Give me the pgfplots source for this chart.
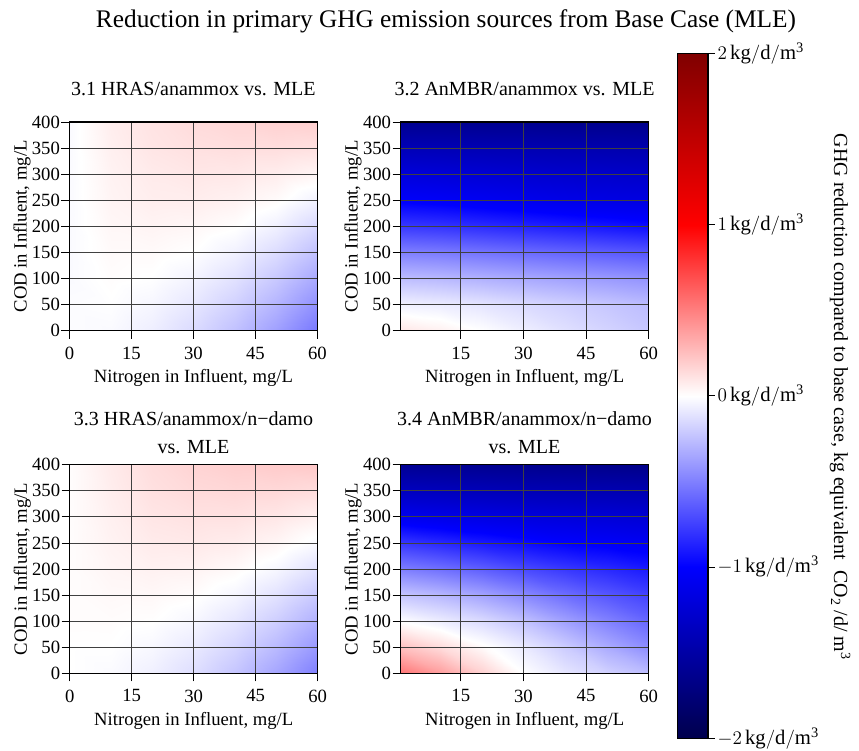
\documentclass[border=0pt]{standalone}
\usepackage{fontspec}
\setmainfont{Liberation Serif}
\usepackage{pgfplots}
\pgfplotsset{compat=1.18}

% seismic colour map, -2 .. 2
\pgfplotsset{
  colormap={seismic}{rgb=(0,0,0.3) rgb=(0,0,1) rgb=(1,1,1) rgb=(1,0,0) rgb=(0.5,0,0)},
  hmap/.style={
    scale only axis, width=186pt, height=156.5pt,
    xmin=0, xmax=60, ymin=0, ymax=400,
    xtick={0,15,...,60}, ytick={0,50,...,400},
    grid=major, grid style={black!75, line width=0.6pt},
    axis on top, axis line style={line width=0.8pt},
    tick align=outside, tick pos=left, major tick length=6pt,
    tick style={black, line width=0.6pt},
    colormap name=seismic, point meta min=-2, point meta max=2,
    font=\fontsize{14}{16}\selectfont,
    /pgf/number format/assume math mode=true,
    xlabel={Nitrogen in Influent, mg/L},
    ylabel={COD in Influent, mg/L},
    xlabel style={at={(axis description cs:0.5,-0.226)}, anchor=center},
    ylabel style={at={(axis description cs:-0.1915,0.5)}, anchor=center},
    yticklabel style={inner sep=1pt},
    xticklabel style={inner sep=2pt, yshift=-4pt},
  },
  hm/.style={surf, shader=interp, mesh/cols=7, point meta=explicit},
}

\begin{document}
\begin{tikzpicture}
\useasboundingbox (0,0) rectangle (644.25pt,562.5pt);

\node[anchor=base, font=\fontsize{19}{22}\selectfont] at (334.5pt,541.5pt)
  {Reduction in primary GHG emission sources from Base Case (MLE)};

\begin{scope}[font=\fontsize{15}{18}\selectfont]
\node[anchor=base] at (145.1pt,490.5pt) {3.1 HRAS/anammox vs. MLE};
\node[anchor=base] at (393.4pt,490.5pt) {3.2 AnMBR/anammox vs. MLE};
\node[anchor=base] at (145.1pt,243.75pt) {3.3 HRAS/anammox/n−damo};
\node[anchor=base] at (145.1pt,222.5pt) {vs. MLE};
\node[anchor=base] at (393.4pt,243.75pt) {3.4 AnMBR/anammox/n−damo};
\node[anchor=base] at (393.4pt,222.5pt) {vs. MLE};
\end{scope}

% 3.1 HRAS/anammox
\begin{axis}[hmap, at={(52.1pt,314.5pt)}, anchor=south west]
\addplot[hm] table[x=x, y=y, meta=v] {
x y v
0 0 -0.01
10 0 -0.020
20 0 -0.067
30 0 -0.142
40 0 -0.244
50 0 -0.374
60 0 -0.530
0 50 -0.01
10 50 -0.004
20 50 -0.036
30 50 -0.094
40 50 -0.181
50 50 -0.294
60 50 -0.435
0 100 -0.02
10 100 0.009
20 100 -0.004
30 100 -0.047
40 100 -0.117
50 100 -0.215
60 100 -0.340
0 150 -0.02
10 150 0.020
20 150 0.020
30 150 0.001
40 150 -0.053
50 150 -0.135
60 150 -0.244
0 200 -0.02
10 200 0.032
20 200 0.044
30 200 0.035
40 200 0.007
50 200 -0.056
60 200 -0.149
0 250 -0.02
10 250 0.043
20 250 0.067
30 250 0.070
40 250 0.054
50 250 0.017
60 250 -0.053
0 300 -0.02
10 300 0.050
20 300 0.080
30 300 0.095
40 300 0.090
50 300 0.070
60 300 0.040
0 350 -0.02
10 350 0.060
20 350 0.100
30 350 0.120
40 350 0.130
50 350 0.130
60 350 0.120
0 400 -0.02
10 400 0.070
20 400 0.110
30 400 0.140
40 400 0.160
50 400 0.180
60 400 0.190
};
\end{axis}

% 3.2 AnMBR/anammox
\begin{axis}[hmap, at={(300.5pt,314.5pt)}, anchor=south west, xmin=0.6]
\addplot[hm] table[x=x, y=y, meta=v] {
x y v
0 0 0.10
10 0 0.06
20 0 0.00
30 0 -0.06
40 0 -0.12
50 0 -0.17
60 0 -0.22
0 50 -0.05
10 50 -0.07
20 50 -0.10
30 50 -0.14
40 50 -0.18
50 50 -0.22
60 50 -0.26
0 100 -0.25
10 100 -0.27
20 100 -0.30
30 100 -0.33
40 100 -0.36
50 100 -0.39
60 100 -0.42
0 150 -0.50
10 150 -0.52
20 150 -0.55
30 150 -0.58
40 150 -0.61
50 150 -0.64
60 150 -0.67
0 200 -0.78
10 200 -0.80
20 200 -0.83
30 200 -0.86
40 200 -0.89
50 200 -0.92
60 200 -0.95
0 250 -1.02
10 250 -1.04
20 250 -1.07
30 250 -1.10
40 250 -1.13
50 250 -1.15
60 250 -1.17
0 300 -1.20
10 300 -1.22
20 300 -1.24
30 300 -1.26
40 300 -1.28
50 300 -1.29
60 300 -1.30
0 350 -1.40
10 350 -1.41
20 350 -1.42
30 350 -1.43
40 350 -1.44
50 350 -1.45
60 350 -1.46
0 400 -1.62
10 400 -1.62
20 400 -1.63
30 400 -1.63
40 400 -1.64
50 400 -1.64
60 400 -1.65
};
\end{axis}

% 3.3 HRAS/anammox/n-damo
\begin{axis}[hmap, at={(52.3pt,57.5pt)}, anchor=south west]
\addplot[hm] table[x=x, y=y, meta=v] {
x y v
0 0 0.00
10 0 -0.017
20 0 -0.060
30 0 -0.130
40 0 -0.226
50 0 -0.350
60 0 -0.500
0 50 0.00
10 50 -0.001
20 50 -0.028
30 50 -0.082
40 50 -0.163
50 50 -0.270
60 50 -0.404
0 100 0.01
10 100 0.012
20 100 0.003
30 100 -0.034
40 100 -0.099
50 100 -0.191
60 100 -0.309
0 150 0.01
10 150 0.025
20 150 0.028
30 150 0.011
40 150 -0.036
50 150 -0.111
60 150 -0.214
0 200 0.01
10 200 0.038
20 200 0.054
30 200 0.049
40 200 0.022
50 200 -0.032
60 200 -0.118
0 250 0.01
10 250 0.050
20 250 0.079
30 250 0.087
40 250 0.073
50 250 0.038
60 250 -0.023
0 300 0.01
10 300 0.060
20 300 0.100
30 300 0.115
40 300 0.115
50 300 0.095
60 300 0.058
0 350 0.01
10 350 0.070
20 350 0.120
30 350 0.145
40 350 0.155
50 350 0.150
60 350 0.134
0 400 0.01
10 400 0.080
20 400 0.135
30 400 0.170
40 400 0.190
50 400 0.205
60 400 0.215
};
\end{axis}

% 3.4 AnMBR/anammox/n-damo
\begin{axis}[hmap, at={(300.5pt,57.5pt)}, anchor=south west, xmin=0.6]
\addplot[hm] table[x=x, y=y, meta=v] {
x y v
0 0 0.55
10 0 0.38
20 0 0.18
30 0 0.00
40 0 -0.10
50 0 -0.18
60 0 -0.26
0 50 0.25
10 50 0.14
20 50 0.02
30 50 -0.08
40 50 -0.20
50 50 -0.33
60 50 -0.45
0 100 0.00
10 100 -0.07
20 100 -0.14
30 100 -0.24
40 100 -0.37
50 100 -0.49
60 100 -0.60
0 150 -0.22
10 150 -0.28
20 150 -0.36
30 150 -0.46
40 150 -0.57
50 150 -0.66
60 150 -0.74
0 200 -0.50
10 200 -0.56
20 200 -0.63
30 200 -0.71
40 200 -0.78
50 200 -0.84
60 200 -0.90
0 250 -0.78
10 250 -0.84
20 250 -0.90
30 250 -0.95
40 250 -1.00
50 250 -1.03
60 250 -1.06
0 300 -1.08
10 300 -1.12
20 300 -1.15
30 300 -1.18
40 300 -1.20
50 300 -1.22
60 300 -1.24
0 350 -1.35
10 350 -1.37
20 350 -1.39
30 350 -1.41
40 350 -1.42
50 350 -1.43
60 350 -1.44
0 400 -1.60
10 400 -1.61
20 400 -1.62
30 400 -1.63
40 400 -1.64
50 400 -1.65
60 400 -1.66
};
\end{axis}

% colour bar
\begin{axis}[at={(508.1pt,8.8pt)}, anchor=south west,
  scale only axis, width=22.9pt, height=513.75pt,
  xmin=0, xmax=1, ymin=-2, ymax=2,
  xtick=\empty, ytick={-2,-1,0,1,2}, ytick pos=right,
  tick align=outside, major tick length=5pt,
  tick style={black, line width=0.6pt},
  axis on top, axis line style={line width=0.8pt},
  colormap name=seismic, point meta min=-2, point meta max=2,
  font=\fontsize{15.5}{18}\selectfont,
  yticklabel={$\pgfmathprintnumber{\tick}\,\mathrm{kg/d/m^3}$},
  yticklabel style={inner sep=2pt}]
\addplot[surf, shader=interp, mesh/cols=2, point meta=explicit]
  table[x=x, y=y, meta=v] {
x y v
0 -2 -2
1 -2 -2
0 -1 -1
1 -1 -1
0 0 0
1 0 0
0 1 1
1 1 1
0 2 2
1 2 2
};
\end{axis}

\node[rotate=-90, font=\fontsize{15}{18}\selectfont] at (630pt,264.75pt)
  {GHG reduction compared to base case, kg equivalent~ CO\textsubscript{2} /d/ m\textsuperscript{3}};

\end{tikzpicture}
\end{document}
